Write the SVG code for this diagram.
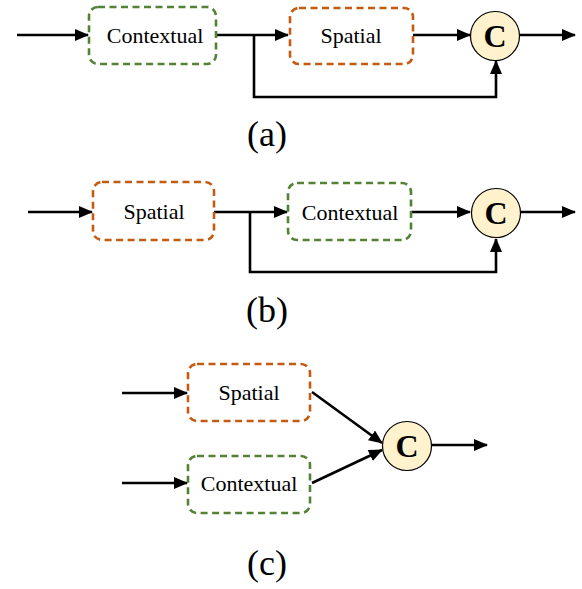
<svg xmlns="http://www.w3.org/2000/svg" width="582" height="589" viewBox="0 0 582 589">
<style>
.box{fill:#fff;stroke-width:2.6;stroke-dasharray:7 4.5}
.g{stroke:#548235}
.o{stroke:#C55A11}
.t{font-family:"Liberation Serif",serif;font-size:22px;fill:#000;text-anchor:middle}
.cc{fill:#FFF2CC;stroke:#000;stroke-width:1.2}
.ct{font-family:"Liberation Serif",serif;font-size:32px;font-weight:bold;fill:#000;text-anchor:middle}
.lbl{font-family:"Liberation Serif",serif;font-size:36px;fill:#000;text-anchor:middle}
.ln{fill:none;stroke:#000;stroke-width:2.6}
.a{marker-end:url(#ah)}
</style>
<defs>
<marker id="ah" markerWidth="14" markerHeight="12" refX="13" refY="6" orient="auto" markerUnits="userSpaceOnUse">
<path d="M0,0 L14,6 L0,12 Z" fill="#000"/>
</marker>
</defs>
<g id="connectors">
<line class="ln a" x1="17" y1="35" x2="88" y2="35"/>
<line class="ln a" x1="216" y1="35" x2="288" y2="35"/>
<polyline class="ln a" points="254,35 254,97 496,97 496,61"/>
<line class="ln a" x1="413" y1="35" x2="470" y2="35"/>
<line class="ln a" x1="520" y1="35" x2="575" y2="35"/>
<line class="ln a" x1="28" y1="212" x2="92" y2="212"/>
<line class="ln a" x1="214" y1="212" x2="287" y2="212"/>
<polyline class="ln a" points="250,212 250,272 496,272 496,239"/>
<line class="ln a" x1="411" y1="212" x2="470" y2="212"/>
<line class="ln a" x1="521" y1="212" x2="575" y2="212"/>
<line class="ln a" x1="122" y1="393" x2="187" y2="393"/>
<line class="ln a" x1="122" y1="483" x2="187" y2="483"/>
<line class="ln a" x1="312" y1="392" x2="382" y2="443"/>
<line class="ln a" x1="312" y1="483" x2="382" y2="450"/>
<line class="ln a" x1="432" y1="445" x2="487" y2="445"/>
</g>
<g id="a-contextual"><rect class="box g" x="89" y="7" width="127" height="57" rx="9"/><text class="t" x="155" y="43">Contextual</text></g>
<g id="a-spatial"><rect class="box o" x="290" y="8" width="123" height="56" rx="9"/><text class="t" x="351" y="43">Spatial</text></g>
<g id="a-concat"><circle class="cc" cx="495" cy="36" r="24.5"/><text class="ct" x="495" y="47">C</text></g>
<text class="lbl" x="267" y="146">(a)</text>
<g id="b-spatial"><rect class="box o" x="93" y="182" width="121" height="58" rx="9"/><text class="t" x="154" y="219">Spatial</text></g>
<g id="b-contextual"><rect class="box g" x="288" y="183" width="123" height="57" rx="9"/><text class="t" x="350" y="220">Contextual</text></g>
<g id="b-concat"><circle class="cc" cx="496" cy="213" r="24.5"/><text class="ct" x="496" y="224">C</text></g>
<text class="lbl" x="267" y="322">(b)</text>
<g id="c-spatial"><rect class="box o" x="188" y="364" width="122" height="57" rx="9"/><text class="t" x="249" y="400">Spatial</text></g>
<g id="c-contextual"><rect class="box g" x="188" y="456" width="122" height="57" rx="9"/><text class="t" x="249" y="491">Contextual</text></g>
<g id="c-concat"><circle class="cc" cx="407" cy="446" r="24.5"/><text class="ct" x="407" y="457">C</text></g>
<text class="lbl" x="267" y="575">(c)</text>
</svg>
